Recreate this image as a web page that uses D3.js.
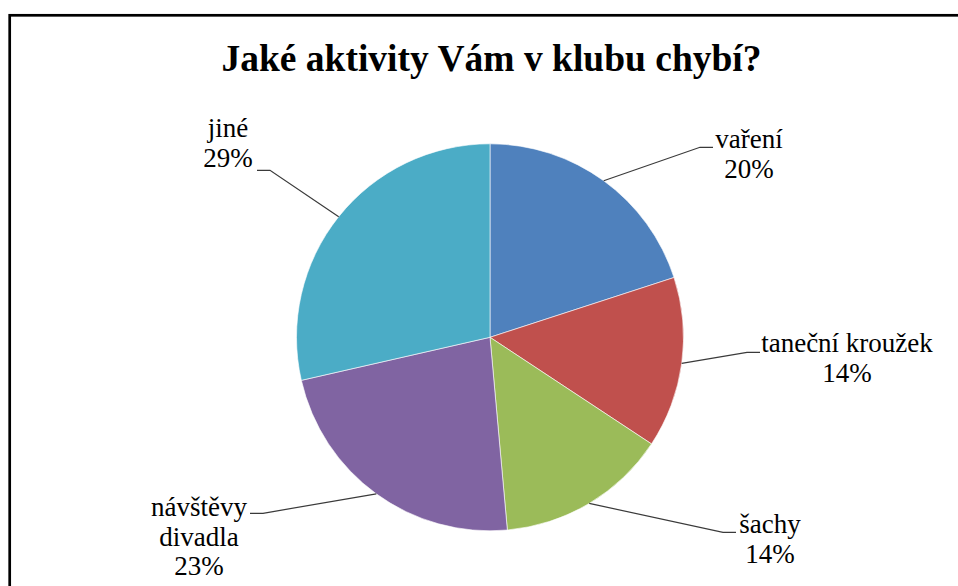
<!DOCTYPE html>
<html>
<head>
<meta charset="utf-8">
<script src="https://cdn.jsdelivr.net/npm/d3@7"></script>
<style>
  html, body { margin: 0; padding: 0; background: #fff; }
  svg { display: block; }
</style>
</head>
<body>
<div id="chart"></div>
<script>
// Data
const categories = ["vaření", "taneční kroužek", "šachy", "návštěvy divadla", "jiné"];
const counts = [14, 10, 10, 16, 20];
const labelLines = [["vaření"], ["taneční kroužek"], ["šachy"], ["návštěvy", "divadla"], ["jiné"]];
const colors = ["#4F81BD", "#C0504D", "#9BBB59", "#8064A2", "#4BACC6"];
const chartTitle = "Jaké aktivity Vám v klubu chybí?";

const width = 958, height = 586;
const cx = 490, cy = 337.3, radius = 193.5;

// label elbow points (relative to pie centre) and text anchor
const labelLayout = [
  { ex: 210, ey: -190, side: "right", tx: 259, ty: -189 },
  { ex: 257, ey: 15, side: "right", tx: 357, ty: 15 },
  { ex: 233, ey: 195, side: "right", tx: 280, ty: 196 },
  { ex: -227, ey: 176, side: "left", tx: -291, ty: 179 },
  { ex: -220, ey: -167, side: "left", tx: -262, ty: -200 }
];

const svg = d3.select("#chart").append("svg")
  .attr("width", width)
  .attr("height", height)
  .style("font-family", "'Times New Roman'");

// outer frame
svg.append("rect")
  .attr("x", 9.7).attr("y", 15.3)
  .attr("width", 1000).attr("height", 1000)
  .attr("fill", "none")
  .attr("stroke", "#000")
  .attr("stroke-width", 2.7);

svg.append("text")
  .attr("x", 491.5).attr("y", 71)
  .attr("text-anchor", "middle")
  .style("font-family", "'Times New Roman'")
  .style("font-weight", "bold")
  .style("font-size", "37.5px")
  .text(chartTitle);

const total = d3.sum(counts);
const pie = d3.pie().sort(null).value(d => d);
const arcs = pie(counts);
const arc = d3.arc().innerRadius(0).outerRadius(radius);

const g = svg.append("g").attr("transform", "translate(" + cx + "," + cy + ")");

g.selectAll(".slice")
  .data(arcs)
  .enter()
  .append("path")
  .attr("class", "slice")
  .attr("d", arc)
  .attr("fill", (d, i) => colors[i])
  .attr("stroke", "#fff")
  .attr("stroke-width", 0.6);

// leader lines: from the arc at the slice's mid angle to the label elbow
g.selectAll(".leader")
  .data(arcs)
  .enter()
  .append("polyline")
  .attr("class", "leader")
  .attr("fill", "none")
  .attr("stroke", "#3a3a3a")
  .attr("stroke-width", 1.2)
  .attr("points", (d, i) => {
    const a = (d.startAngle + d.endAngle) / 2;
    const p0 = [radius * Math.sin(a), -radius * Math.cos(a)];
    const L = labelLayout[i];
    const hx = L.side === "right" ? L.ex + 13 : L.ex - 13;
    return [p0, [L.ex, L.ey], [hx, L.ey]].map(p => p.map(v => v.toFixed(1)).join(",")).join(" ");
  });

// labels: one text per line
const lineH = 29.5;
arcs.forEach((d, i) => {
  const L = labelLayout[i];
  const pct = Math.round(counts[i] / total * 100) + "%";
  const lines = labelLines[i].concat([pct]);
  lines.forEach((s, k) => {
    g.append("text")
      .attr("x", L.tx)
      .attr("y", L.ty + k * lineH)
      .attr("text-anchor", "middle")
      .style("font-family", "'Times New Roman'")
      .style("font-size", "27px")
      .attr("fill", "#000")
      .text(s);
  });
});
</script>
</body>
</html>
